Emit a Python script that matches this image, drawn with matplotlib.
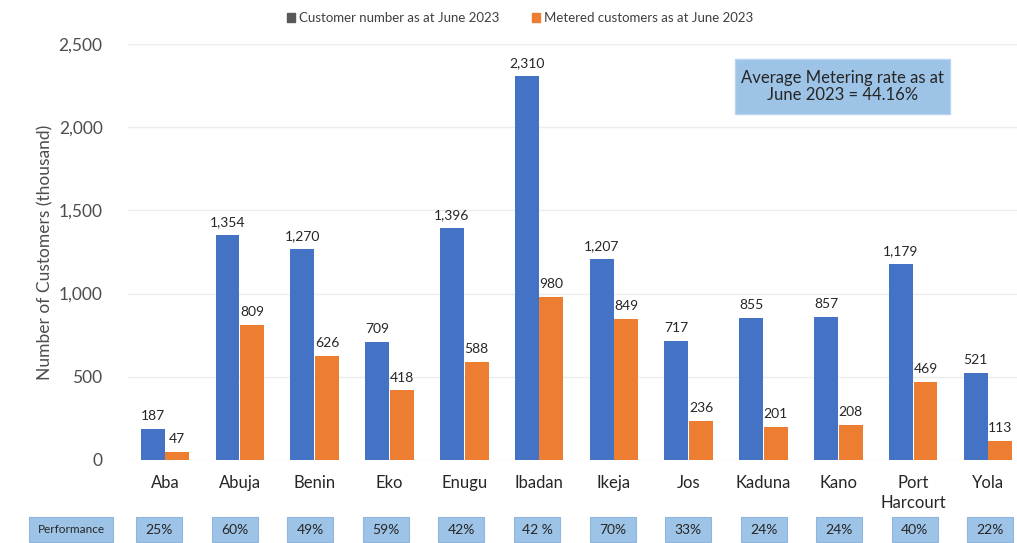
import matplotlib
matplotlib.use("Agg")
import matplotlib.pyplot as plt
from matplotlib.patches import Rectangle

plt.rcParams['font.family'] = ['Lato', 'DejaVu Sans']

categories = ["Aba", "Abuja", "Benin", "Eko", "Enugu", "Ibadan", "Ikeja", "Jos",
              "Kaduna", "Kano", "Port\nHarcourt", "Yola"]
customers = [187, 1354, 1270, 709, 1396, 2310, 1207, 717, 855, 857, 1179, 521]
metered = [47, 809, 626, 418, 588, 980, 849, 236, 201, 208, 469, 113]
performance = ["25%", "60%", "49%", "59%", "42%", "42 %", "70%", "33%", "24%", "24%", "40%", "22%"]
yticks = [0, 500, 1000, 1500, 2000, 2500]
series_names = ["Customer number as at June 2023", "Metered customers as at June 2023"]

BLUE = "#4472C4"
ORANGE = "#ED7D31"
BOXC = "#9DC3E6"

W, H = 1017, 543
fig = plt.figure(figsize=(W/100, H/100), dpi=100)
ax = fig.add_axes([127.6/W, 1 - 460/H, 897.8/W, (460-44)/H])

x = list(range(len(categories)))
bw = 0.32
off = 0.165
b1 = ax.bar([i - off for i in x], customers, width=bw, color=BLUE, zorder=3)
b2 = ax.bar([i + off for i in x], metered, width=bw, color=ORANGE, zorder=3)

for rect, v in zip(b1, customers):
    ax.annotate(f"{v:,}", (rect.get_x() + rect.get_width()/2, v), xytext=(0, 5),
                textcoords="offset points", ha="center", va="bottom", fontsize=10, color="#262626")
for rect, v in zip(b2, metered):
    ax.annotate(f"{v:,}", (rect.get_x() + rect.get_width()/2, v), xytext=(0, 5),
                textcoords="offset points", ha="center", va="bottom", fontsize=10, color="#262626")

ax.set_xlim(-0.5, len(categories) - 0.5)
ax.set_ylim(0, 2500)
ax.set_yticks(yticks)
ax.set_yticklabels([f"{t:,}" for t in yticks], fontsize=12.5, color="#4d4d4d")
ax.set_xticks(x)
ax.set_xticklabels(categories, fontsize=12, color="#262626", linespacing=1.3)
ax.tick_params(axis='both', length=0)
ax.tick_params(axis='y', pad=18)
ax.tick_params(axis='x', pad=11)
for s in ax.spines.values():
    s.set_visible(False)
ax.grid(axis='y', color="#ececec", linewidth=1, zorder=0)
ax.set_axisbelow(True)
ax.set_ylabel("Number of Customers (thousand)", fontsize=12.5, color="#4d4d4d", labelpad=4)

# legend
handles = [Rectangle((0, 0), 1, 1, color="#595959"), Rectangle((0, 0), 1, 1, color=ORANGE)]
fig.legend(handles, series_names, loc="center", bbox_to_anchor=(520/W, 1 - 18/H), ncol=2,
           frameon=False, fontsize=9.5, handlelength=0.6, handleheight=0.6,
           handletextpad=0.3, columnspacing=2.5, labelcolor="#404040")

# average box
bx0, bx1, by0, by1 = 735, 950, 59, 114
fig.patches.append(Rectangle((bx0/W, 1 - by1/H), (bx1-bx0)/W, (by1-by0)/H,
                             transform=fig.transFigure, facecolor=BOXC, edgecolor="#b8d4ee", lw=1))
fig.text((bx0+bx1)/2/W, 1 - (by0+by1)/2/H, "Average Metering rate as at\nJune 2023 = 44.16%",
         ha="center", va="center", fontsize=12, color="#262626", linespacing=1.15)

# performance row
ry0, ry1 = 517, 542
def pbox(cx, w, label, fs):
    fig.patches.append(Rectangle(((cx - w/2)/W, 1 - ry1/H), w/W, (ry1-ry0)/H,
                                 transform=fig.transFigure, facecolor=BOXC, edgecolor="#8fb6dc", lw=0.8))
    fig.text(cx/W, 1 - (ry0+ry1)/2/H, label, ha="center", va="center", fontsize=fs, color="#262626")

pbox(71, 84, "Performance", 8.5)
for i, p in enumerate(performance):
    xd = ax.transData.transform((i * 1.0094 - 0.075, 0))[0]
    pbox(xd, 46, p, 10)

fig.savefig("out.png", dpi=100)
